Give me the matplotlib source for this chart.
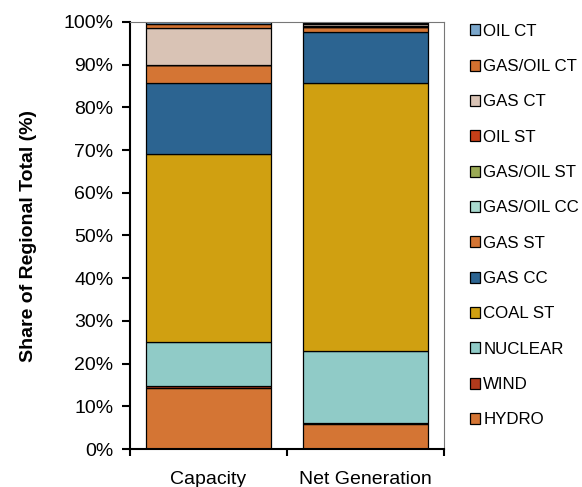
import matplotlib.pyplot as plt
from matplotlib.ticker import PercentFormatter

plt.rcParams['font.family'] = ['Liberation Sans', 'DejaVu Sans']

categories = ["Capacity", "Net Generation"]

# stacked from bottom to top
fuel_types = ["HYDRO", "WIND", "NUCLEAR", "COAL ST", "GAS CC", "GAS ST",
              "GAS/OIL CC", "GAS/OIL ST", "OIL ST", "GAS CT", "GAS/OIL CT", "OIL CT"]
capacity = [14.3, 0.4, 10.3, 44.1, 16.6, 4.2, 0.0, 0.0, 0.1, 8.5, 1.1, 0.4]
net_generation = [5.8, 0.4, 16.8, 62.7, 11.9, 1.3, 0.0, 0.0, 0.1, 0.6, 0.2, 0.2]
colors = ["#D47534", "#B03A1C", "#90CBC7", "#D0A011", "#2C6491", "#D47534",
          "#A9D9CE", "#9BAA55", "#C63F18", "#D9C3B5", "#D2712F", "#7BA7CC"]

fig = plt.figure(figsize=(5.82, 4.87), dpi=100)
ax = fig.add_axes([130 / 582, 1 - 449 / 487, 314 / 582, 427 / 487])

x = range(len(categories))
bottoms = [0.0, 0.0]
handles = []
for name, cap, gen, col in zip(fuel_types, capacity, net_generation, colors):
    vals = [cap, gen]
    b = ax.bar(x, vals, 0.8, bottom=bottoms, color=col, edgecolor="black",
               linewidth=0.9, label=name)
    handles.append(b)
    bottoms = [bottoms[i] + vals[i] for i in range(2)]

ax.set_xlim(-0.5, 1.5)
ax.set_ylim(0, 100)
ax.set_yticks(range(0, 101, 10))
ax.yaxis.set_major_formatter(PercentFormatter(decimals=0))
ax.set_xticks([-0.5, 0.5, 1.5])
ax.set_xticklabels([])
ax.set_xticks(list(x), minor=True)
ax.set_xticklabels(categories, minor=True, fontsize=14)
ax.tick_params(axis="x", which="minor", length=0, pad=16)
ax.tick_params(axis="x", which="major", direction="out", length=5, width=1.5)
ax.tick_params(axis="y", direction="out", length=6, width=1.5, labelsize=14, pad=6)
ax.set_ylabel("Share of Regional Total (%)", fontsize=14, fontweight="bold", labelpad=19)

for side in ["left", "bottom"]:
    ax.spines[side].set_linewidth(1.5)
for side in ["top", "right"]:
    ax.spines[side].set_linewidth(0.8)
    ax.spines[side].set_color("#777777")

fig.legend(handles[::-1], fuel_types[::-1], loc="upper left",
           bbox_to_anchor=(463 / 582, 1 - 17 / 487), frameon=False,
           fontsize=12.2, handlelength=0.6, handleheight=0.6,
           handletextpad=0.2, labelspacing=1.2, borderaxespad=0)

plt.savefig("out.png", dpi=100)
plt.close()
